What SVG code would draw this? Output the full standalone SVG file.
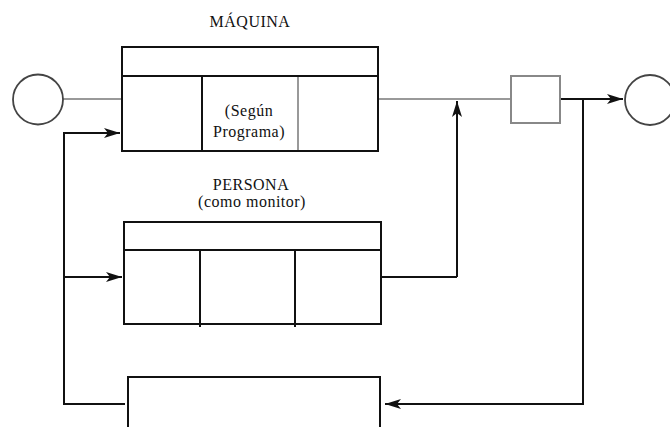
<svg xmlns="http://www.w3.org/2000/svg" width="670" height="427" viewBox="0 0 670 427">
<style>
.box{fill:#fff;stroke:#111;stroke-width:2}
.ln{fill:none;stroke:#111;stroke-width:2}
.gl{fill:none;stroke:#999;stroke-width:2}
.circ{fill:#fff;stroke:#444;stroke-width:1.8}
.t{font-family:"Liberation Serif",serif;font-size:16px;fill:#111;text-anchor:middle;letter-spacing:0.5px}
</style>
<defs>
<marker id="ah" viewBox="0 0 16 10" refX="16" refY="5" markerWidth="16" markerHeight="10" markerUnits="userSpaceOnUse" orient="auto">
<path d="M0,0 L16,5 L0,10 L4,5 Z" fill="#111"/>
</marker>
</defs>
<rect width="670" height="427" fill="#fff"/>
<g id="connectors">
<line class="gl" x1="63" y1="99" x2="122" y2="99"/>
<line class="gl" x1="378" y1="99" x2="511" y2="99"/>
<polyline class="ln" points="457,277 457,101" marker-end="url(#ah)"/>
<polyline class="ln" points="381,277 457,277"/>
<line class="ln" x1="560" y1="99" x2="623" y2="99" marker-end="url(#ah)"/>
<polyline class="ln" points="583,99 583,404 385,404" marker-end="url(#ah)"/>
<polyline class="ln" points="125,404 64,404 64,133 120,133" marker-end="url(#ah)"/>
<line class="ln" x1="64" y1="277" x2="122" y2="277" marker-end="url(#ah)"/>
</g>
<g id="inicio">
<circle class="circ" cx="38" cy="99.5" r="25"/>
</g>
<g id="fin">
<circle class="circ" cx="650" cy="100" r="25"/>
</g>
<g id="maquina">
<text class="t" x="250" y="27">MÁQUINA</text>
<rect class="box" x="122" y="47" width="256" height="104"/>
<line class="ln" x1="122" y1="76" x2="378" y2="76"/>
<line class="ln" x1="202" y1="76" x2="202" y2="151"/>
<line class="gl" x1="298" y1="77" x2="298" y2="150"/>
<text class="t" x="249" y="116">(Según</text>
<text class="t" x="249" y="137">Programa)</text>
</g>
<g id="persona">
<text class="t" x="251" y="190">PERSONA</text>
<text class="t" x="252" y="207">(como monitor)</text>
<rect class="box" x="124" y="222" width="257" height="102"/>
<line class="ln" x1="124" y1="250" x2="381" y2="250"/>
<line class="ln" x1="200" y1="250" x2="200" y2="327"/>
<line class="ln" x1="295" y1="250" x2="295" y2="327"/>
</g>
<g id="control">
<rect class="box" x="128" y="377" width="252" height="70"/>
</g>
<g id="punto">
<rect x="511" y="76" width="49" height="47" fill="#fff" stroke="#888" stroke-width="2"/>
</g>
</svg>
